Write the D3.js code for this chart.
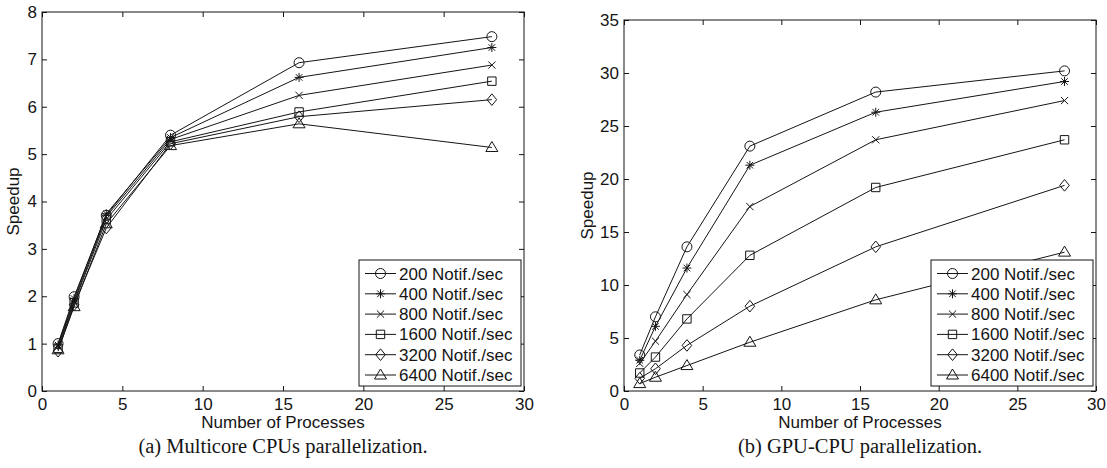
<!DOCTYPE html>
<html>
<head>
<meta charset="utf-8">
<script src="https://cdn.jsdelivr.net/npm/d3@7"></script>
<style>
  body { margin: 0; background: #fff; }
  svg text { fill: #151515; }
</style>
</head>
<body>
<svg id="chart" width="1107" height="468"></svg>
<script>
// x values shared by both panels
var procs = [1, 2, 4, 8, 16, 28]
var seriesNames = ["200 Notif./sec", "400 Notif./sec", "800 Notif./sec", "1600 Notif./sec", "3200 Notif./sec", "6400 Notif./sec"]
var markerTypes = ["circle", "star", "cross", "square", "diamond", "triangle"]

// (a) multicore CPUs
var cpu200 = [1.00, 1.99, 3.71, 5.40, 6.93, 7.48]
var cpu400 = [0.97, 1.95, 3.74, 5.35, 6.62, 7.25]
var cpu800 = [0.94, 1.90, 3.68, 5.31, 6.24, 6.88]
var cpu1600 = [0.90, 1.86, 3.62, 5.26, 5.89, 6.54]
var cpu3200 = [0.84, 1.82, 3.44, 5.22, 5.79, 6.15]
var cpu6400 = [0.87, 1.78, 3.53, 5.18, 5.64, 5.14]

// (b) GPU-CPU
var gpu200 = [3.4, 7.0, 13.6, 23.1, 28.2, 30.2]
var gpu400 = [2.9, 6.1, 11.6, 21.3, 26.3, 29.2]
var gpu800 = [2.6, 4.7, 9.1, 17.4, 23.7, 27.4]
var gpu1600 = [1.7, 3.2, 6.8, 12.8, 19.2, 23.7]
var gpu3200 = [1.2, 2.1, 4.3, 8.0, 13.6, 19.4]
var gpu6400 = [0.7, 1.3, 2.4, 4.6, 8.6, 13.1]

var xTicks = [0, 5, 10, 15, 20, 25, 30]
var cpuTicks = [0, 1, 2, 3, 4, 5, 6, 7, 8]
var gpuTicks = [0, 5, 10, 15, 20, 25, 30, 35]

var ink = "#151515"
var svg = d3.select("#chart")

function markerPath(type) {
    var p = d3.path()
    if (type == "circle") {
        p.moveTo(5, 0); p.arc(0, 0, 5, 0, 2 * Math.PI)
    } else if (type == "star") {
        p.moveTo(-4.5, 0); p.lineTo(4.5, 0)
        p.moveTo(0, -4.5); p.lineTo(0, 4.5)
        p.moveTo(-3.3, -3.3); p.lineTo(3.3, 3.3)
        p.moveTo(-3.3, 3.3); p.lineTo(3.3, -3.3)
    } else if (type == "cross") {
        p.moveTo(-3.6, -3.6); p.lineTo(3.6, 3.6)
        p.moveTo(-3.6, 3.6); p.lineTo(3.6, -3.6)
    } else if (type == "square") {
        p.rect(-4.2, -4.2, 8.4, 8.4)
    } else if (type == "diamond") {
        p.moveTo(0, -5.8); p.lineTo(4.8, 0); p.lineTo(0, 5.8); p.lineTo(-4.8, 0); p.closePath()
    } else {
        p.moveTo(0, -6); p.lineTo(6, 4); p.lineTo(-6, 4); p.closePath()
    }
    return p.toString()
}

function drawPanel(box, yMax, yTicks, series, caption, labelGap) {
    var x = d3.scaleLinear().domain([0, 30]).range([box.left, box.right])
    var y = d3.scaleLinear().domain([0, yMax]).range([box.bottom, box.top])
    var g = svg.append("g")

    g.append("g")
        .attr("transform", "translate(0," + box.bottom + ")")
        .call(d3.axisBottom(x).tickValues(xTicks).tickSizeInner(-5).tickSizeOuter(0).tickPadding(7))
    g.append("g")
        .attr("transform", "translate(" + box.left + ",0)")
        .call(d3.axisLeft(y).tickValues(yTicks).tickSizeInner(-5).tickSizeOuter(0).tickPadding(5))
    g.append("g")
        .attr("transform", "translate(0," + box.top + ")")
        .call(d3.axisTop(x).tickValues(xTicks).tickSizeInner(-5).tickSizeOuter(0).tickFormat(""))
    g.append("g")
        .attr("transform", "translate(" + box.right + ",0)")
        .call(d3.axisRight(y).tickValues(yTicks).tickSizeInner(-5).tickSizeOuter(0).tickFormat(""))

    g.selectAll(".domain").remove()
    g.selectAll(".tick line").attr("stroke", ink)
    g.selectAll(".tick text")
        .attr("font-family", "Liberation Sans, Arial, sans-serif")
        .attr("font-size", 17)
        .attr("fill", ink)

    g.append("rect")
        .attr("x", box.left).attr("y", box.top)
        .attr("width", box.right - box.left).attr("height", box.bottom - box.top)
        .attr("fill", "none").attr("stroke", ink).attr("stroke-width", 1)

    var line = d3.line()
        .x(function(d, i) { return x(procs[i]) })
        .y(function(d) { return y(d) })

    series.forEach(function(vals, s) {
        g.append("path")
            .attr("d", line(vals))
            .attr("fill", "none")
            .attr("stroke", ink)
            .attr("stroke-width", 1)
        g.selectAll(".m" + s)
            .data(vals)
            .enter().append("path")
            .attr("d", markerPath(markerTypes[s]))
            .attr("transform", function(d, i) { return "translate(" + x(procs[i]) + "," + y(d) + ")" })
            .attr("fill", "none")
            .attr("stroke", ink)
            .attr("stroke-width", 1)
    })

    // axis titles
    g.append("text")
        .text("Number of Processes")
        .attr("x", (box.left + box.right) / 2)
        .attr("y", 428)
        .attr("text-anchor", "middle")
        .attr("font-family", "Liberation Sans, Arial, sans-serif")
        .attr("font-size", 17)
    g.append("text")
        .text("Speedup")
        .attr("transform", "translate(" + (box.left - labelGap) + "," + ((box.top + box.bottom) / 2) + ") rotate(-90)")
        .attr("text-anchor", "middle")
        .attr("font-family", "Liberation Sans, Arial, sans-serif")
        .attr("font-size", 17)

    // legend
    var lw = 162, lh = 126
    var lx = box.right - 3 - lw, ly = box.bottom - 5 - lh
    var leg = g.append("g").attr("transform", "translate(" + lx + "," + ly + ")")
    leg.append("rect")
        .attr("width", lw).attr("height", lh)
        .attr("fill", "#fff").attr("stroke", ink).attr("stroke-width", 1)
    seriesNames.forEach(function(name, s) {
        var ry = 13.5 + s * 20.3
        leg.append("line")
            .attr("x1", 6).attr("x2", 37).attr("y1", ry).attr("y2", ry)
            .attr("stroke", ink)
        leg.append("path")
            .attr("d", markerPath(markerTypes[s]))
            .attr("transform", "translate(21.5," + ry + ")")
            .attr("fill", "none").attr("stroke", ink)
        leg.append("text")
            .text(name)
            .attr("x", 40).attr("y", ry + 6)
            .attr("font-family", "Liberation Sans, Arial, sans-serif")
            .attr("font-size", 17)
    })

    svg.append("text")
        .text(caption)
        .attr("x", (box.left + box.right) / 2)
        .attr("y", 453)
        .attr("text-anchor", "middle")
        .attr("font-family", "Liberation Serif, Times New Roman, serif")
        .attr("font-size", 20.5)
        .attr("fill", "#000")
}

drawPanel({ left: 42, right: 524, top: 12, bottom: 391 }, 8, cpuTicks,
    [cpu200, cpu400, cpu800, cpu1600, cpu3200, cpu6400], "(a) Multicore CPUs parallelization.", 23)
drawPanel({ left: 624, right: 1096, top: 20, bottom: 391 }, 35, gpuTicks,
    [gpu200, gpu400, gpu800, gpu1600, gpu3200, gpu6400], "(b) GPU-CPU parallelization.", 31)
</script>
</body>
</html>
